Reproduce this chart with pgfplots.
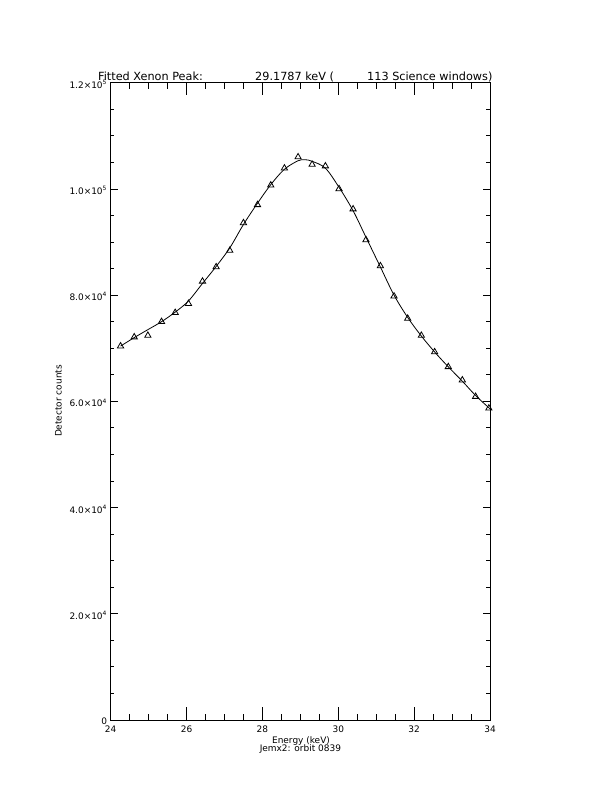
\documentclass[border=0pt]{standalone}
\usepackage{fontspec}
\setmainfont{DejaVu Sans}
\usepackage{pgfplots}
\pgfplotsset{compat=1.18}
\pgfplotsset{
 common/.style={
  at={(110.7bp,72bp)}, anchor=south west, scale only axis,
  width=379.3bp, height=637.3bp,
  xmin=24, xmax=34, ymin=0, ymax=120000,
  axis line style={line width=0.8bp},
  every tick/.style={line width=0.8bp, black},
  scaled ticks=false,
 }}
\begin{document}
\begin{tikzpicture}
\path (0,0) rectangle (612bp,792bp);
\begin{axis}[common,
  ytick=\empty,
  xtick={24,26,28,30,32,34},
  minor x tick num=3,
  major tick length=12.7bp, minor tick length=6.4bp,
  xticklabels={24,26,28,30,32,34},
  xticklabel style={font=\fontsize{9}{10}\selectfont, anchor=north, inner sep=0pt, yshift=-6bp},
]
\addplot[black, line width=0.8bp, smooth, tension=0.55, no marks] coordinates {
(24.26,70400)(24.62,72000)(24.98,73500)(25.34,75000)(25.70,76800)(26.05,78900)
(26.42,82200)(26.78,85400)(27.14,88900)(27.50,93300)(27.87,97300)(28.22,100800)
(28.58,103700)(28.94,105300)(29.12,105500)(29.31,105200)(29.66,103900)(30.02,100300)
(30.39,95900)(30.73,90900)(31.11,85300)(31.47,80000)(31.83,75800)(32.19,72300)
(32.54,69300)(32.90,66500)(33.27,63800)(33.62,61100)(34.00,58600)
};
\addplot[black, only marks, mark=triangle, mark size=3.6bp, mark options={line width=0.8bp, fill=none}] coordinates {
(24.26,70400)(24.62,72100)(24.98,72400)(25.34,75000)(25.70,76700)(26.05,78400)
(26.42,82600)(26.78,85300)(27.14,88400)(27.50,93600)(27.87,97000)(28.22,100700)
(28.58,103900)(28.94,106000)(29.31,104600)(29.66,104300)(30.02,100000)(30.39,96200)
(30.73,90400)(31.11,85500)(31.47,79800)(31.83,75600)(32.19,72400)(32.54,69300)
(32.90,66500)(33.27,64000)(33.62,60900)(33.97,58700)
};
\end{axis}
\begin{axis}[common,
  xtick=\empty,
  ytick={0,20000,40000,60000,80000,100000,120000},
  minor y tick num=3,
  major tick length=7.3bp, minor tick length=3.6bp,
  yticklabels={0,2.0×10\textsuperscript{4},4.0×10\textsuperscript{4},6.0×10\textsuperscript{4},8.0×10\textsuperscript{4},1.0×10\textsuperscript{5},1.2×10\textsuperscript{5}},
  yticklabel style={font=\fontsize{9}{10}\selectfont, anchor=east, inner sep=0pt, xshift=-3.5bp, yshift=-1.5bp},
]
\end{axis}
\node[anchor=base, inner sep=0pt, font=\fontsize{9}{10}\selectfont] at (301bp,48.5bp) {Energy (keV)};
\node[anchor=base, inner sep=0pt, font=\fontsize{9}{10}\selectfont] at (300.4bp,40.5bp) {Jemx2: orbit 0839};
\node[anchor=base, rotate=90, inner sep=0pt, font=\fontsize{9}{10}\selectfont] at (61.5bp,391bp) {Detector counts};
\node[anchor=base west, inner sep=0pt, font=\fontsize{11.3}{12}\selectfont] at (98bp,711.3bp) {Fitted Xenon Peak:};
\node[anchor=base west, inner sep=0pt, font=\fontsize{11.3}{12}\selectfont] at (255bp,711.3bp) {29.1787 keV (};
\node[anchor=base west, inner sep=0pt, font=\fontsize{11.3}{12}\selectfont] at (367bp,711.3bp) {113 Science windows)};
\end{tikzpicture}
\end{document}
